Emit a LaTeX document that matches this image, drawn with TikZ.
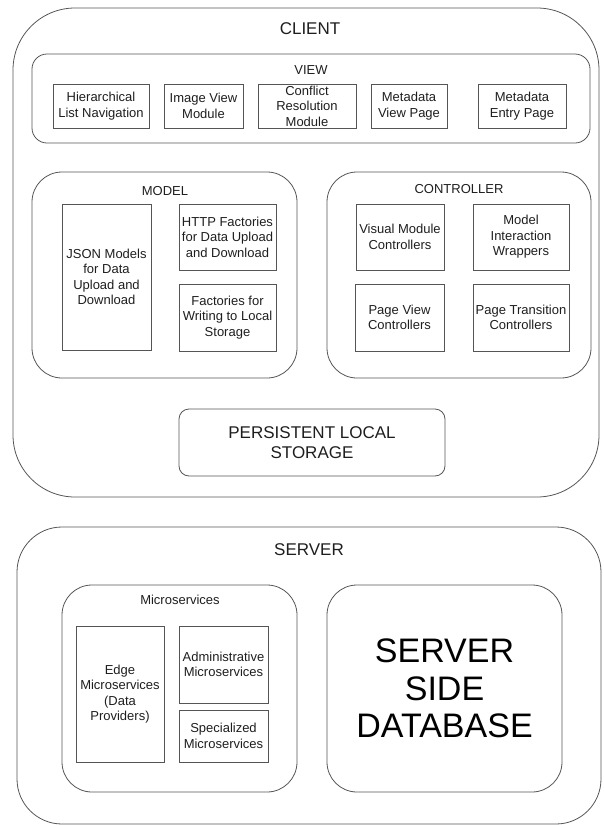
\documentclass[tikz,border=0pt]{standalone}
\usepackage{fontspec}
\setmainfont{Liberation Sans}
\usepackage{xcolor}
\definecolor{lnline}{RGB}{85,85,85}
\definecolor{lntext}{RGB}{30,30,30}
\usetikzlibrary{positioning}

\begin{document}
\begin{tikzpicture}[
  x=1pt, y=-1pt,
  tierbox/.style={rectangle, draw=lnline, line width=0.8pt, inner sep=0pt},
  layerbox/.style={rectangle, draw=lnline, line width=0.8pt, inner sep=0pt,
                   rounded corners=30pt},
  partbox/.style={rectangle, draw=lnline, line width=0.8pt, inner sep=0pt,
                  align=center, text=lntext,
                  font=\fontsize{13}{15.5}\selectfont},
  grouplbl/.style={inner sep=0pt, text=lntext, font=\fontsize{13}{15.5}\selectfont},
  tierlbl/.style={inner sep=0pt, text=lntext, font=\fontsize{17}{20}\selectfont}
]
\useasboundingbox (0,0) rectangle (603,825);

% Client tier
\node[tierbox, rounded corners=62pt, minimum width=586pt, minimum height=489pt] (client) at (306,252.5) {};
\node[tierlbl] (clientlbl) at (310,29) {CLIENT};

% View
\node[layerbox, rounded corners=15pt, minimum width=558pt, minimum height=89pt] (view) at (311,98.5) {};
\node[grouplbl] (viewlbl) at (311,70) {VIEW};
\node[partbox, minimum width=96pt, minimum height=44pt] (hier)   at (101,106)   {Hierarchical\\List Navigation};
\node[partbox, minimum width=79pt, minimum height=44pt] (imgv)   at (203.5,106) {Image View\\Module};
\node[partbox, minimum width=98pt, minimum height=44pt] (conf)   at (307,106)   {Conflict\\Resolution\\Module};
\node[partbox, minimum width=76pt, minimum height=44pt] (mview)  at (409,106)   {Metadata\\View Page};
\node[partbox, minimum width=88pt, minimum height=44pt] (mentry) at (522,106)   {Metadata\\Entry Page};

% Model
\node[layerbox, minimum width=265pt, minimum height=206pt] (model) at (164.5,275) {};
\node[grouplbl] (modellbl) at (165,191) {MODEL};
\node[partbox, minimum width=89pt, minimum height=146pt] (json) at (106.5,277)   {JSON Models\\for Data\\Upload and\\Download};
\node[partbox, minimum width=97pt, minimum height=66pt]  (http) at (227.5,237)   {HTTP Factories\\for Data Upload\\and Download};
\node[partbox, minimum width=97pt, minimum height=67pt]  (fact) at (227.5,317.5) {Factories for\\Writing to Local\\Storage};

% Controller
\node[layerbox, minimum width=264pt, minimum height=206pt] (ctrl) at (459,275) {};
\node[grouplbl] (ctrllbl) at (459,189) {CONTROLLER};
\node[partbox, minimum width=88pt, minimum height=66pt] (vis)    at (400,237)   {Visual Module\\Controllers};
\node[partbox, minimum width=96pt, minimum height=66pt] (wrap)   at (521,237)   {Model\\Interaction\\Wrappers};
\node[partbox, minimum width=89pt, minimum height=67pt] (pview)  at (399.5,317.5) {Page View\\Controllers};
\node[partbox, minimum width=96pt, minimum height=67pt] (ptrans) at (521,317.5) {Page Transition\\Controllers};

% Local storage
\node[tierbox, rounded corners=10pt, minimum width=266pt, minimum height=67pt,
      align=center, text=lntext, font=\fontsize{17}{20}\selectfont] (persist) at (312,442.5) {PERSISTENT LOCAL\\STORAGE};

% Server tier
\node[tierbox, rounded corners=45pt, minimum width=584pt, minimum height=297pt] (server) at (309,675.5) {};
\node[tierlbl] (serverlbl) at (309,550) {SERVER};

% Microservices
\node[layerbox, minimum width=235pt, minimum height=207pt] (micro) at (179.5,688.5) {};
\node[grouplbl] (microlbl) at (180,600) {Microservices};
\node[partbox, minimum width=88pt, minimum height=136pt] (edge)  at (120,694)   {Edge\\Microservices\\(Data\\Providers)};
\node[partbox, minimum width=89pt, minimum height=77pt]  (admin) at (223.5,664.5) {Administrative\\Microservices};
\node[partbox, minimum width=89pt, minimum height=52pt]  (spec)  at (223.5,736) {Specialized\\Microservices};

% Database
\node[layerbox, minimum width=235pt, minimum height=207pt, align=center, text=black,
      font=\fontsize{34}{37.5}\selectfont] (db) at (444.5,688.5) {SERVER\\SIDE\\DATABASE};
\end{tikzpicture}
\end{document}
